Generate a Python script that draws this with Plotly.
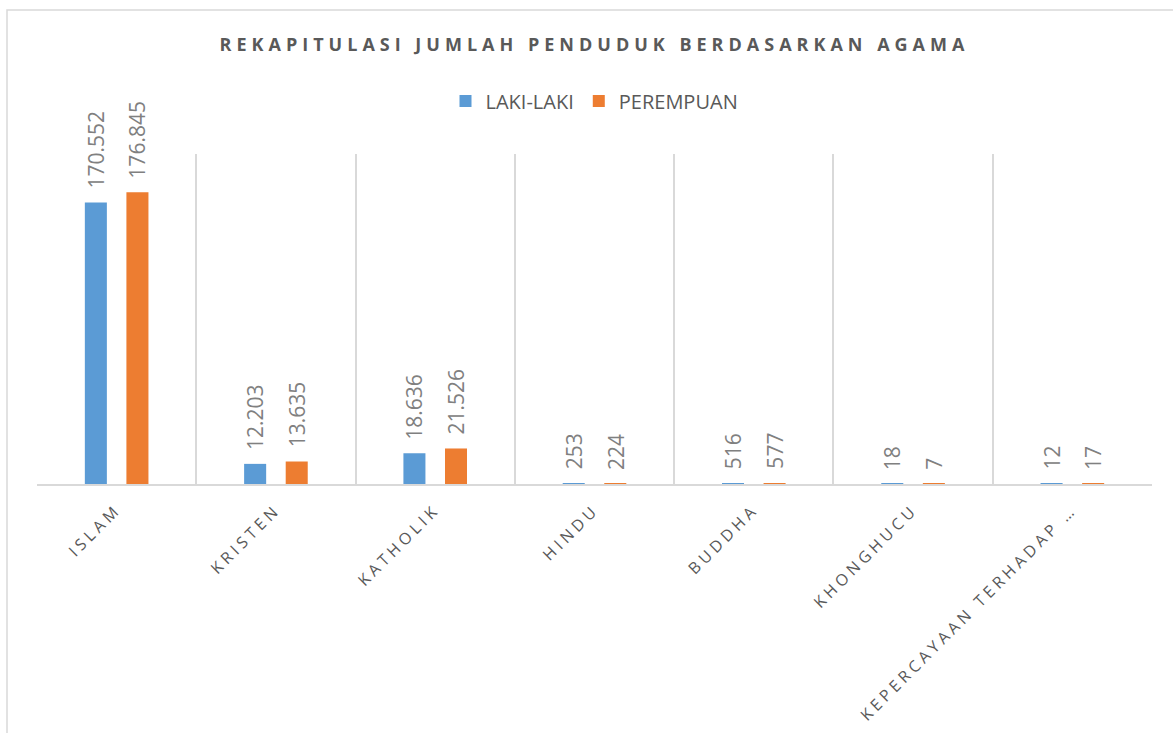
import plotly.graph_objects as go

categories = ["ISLAM", "KRISTEN", "KATHOLIK", "HINDU", "BUDDHA", "KHONGHUCU", "KEPERCAYAAN TERHADAP …"]
laki_laki = [170552, 12203, 18636, 253, 516, 18, 12]
perempuan = [176845, 13635, 21526, 224, 577, 7, 17]
laki_labels = ["170.552", "12.203", "18.636", "253", "516", "18", "12"]
perempuan_labels = ["176.845", "13.635", "21.526", "224", "577", "7", "17"]

FONT = "Open Sans, DejaVu Sans, sans-serif"
LABEL_GRAY = "#808080"
TEXT_GRAY = "#595959"
GRID = "#d9d9d9"

fig = go.Figure()
fig.add_trace(go.Bar(
    name="LAKI-LAKI", x=categories, y=laki_laki,
    marker=dict(color="#5B9BD5", line=dict(width=0)),
))
fig.add_trace(go.Bar(
    name="PEREMPUAN", x=categories, y=perempuan,
    marker=dict(color="#ED7D31", line=dict(width=0)),
))

W, H = 1173, 733
L, R, T, B = 37, 21, 154, 249
pw, ph = W - L - R, H - T - B
BARGAP, GROUPGAP = 0.478, 0.47
slot = pw / len(categories) * (1 - BARGAP) / 2  # pixel width of one bar slot

def px2x(px):
    return (px - L) / pw

def py2y(py):
    return (H - B - py) / ph

annotations = []
for series_vals, series_labels, sign in ((laki_laki, laki_labels, -1), (perempuan, perempuan_labels, 1)):
    for cat, val, lab in zip(categories, series_vals, series_labels):
        annotations.append(dict(
            x=cat, y=val, xref="x", yref="y", text=lab, showarrow=False,
            textangle=-90, xanchor="center", yanchor="bottom",
            xshift=sign * slot / 2, yshift=12,
            font=dict(family=FONT, size=21, color=LABEL_GRAY),
        ))

fig.update_layout(
    width=W, height=H,
    margin=dict(l=L, r=R, t=T, b=B, autoexpand=False),
    paper_bgcolor="white", plot_bgcolor="white",
    barmode="group", bargap=BARGAP, bargroupgap=GROUPGAP,
    title=dict(
        text="<b>REKAPITULASI JUMLAH PENDUDUK BERDASARKAN AGAMA</b>",
        x=0.5, xanchor="center", xref="paper",
        y=1 - 45 / H, yref="container", yanchor="middle",
        font=dict(family=FONT, size=18, color=TEXT_GRAY),
    ),
    legend=dict(
        orientation="h", x=0.5, xanchor="center", y=py2y(101), yanchor="middle",
        font=dict(family=FONT, size=20, color=TEXT_GRAY),
        bgcolor="rgba(0,0,0,0)", itemclick=False,
    ),
    xaxis=dict(
        type="category", tickson="boundaries", showgrid=True, gridcolor=GRID, gridwidth=1.5,
        showline=True, linecolor=GRID, linewidth=2, ticks="", tickangle=-45,
        tickfont=dict(family=FONT, size=16, color=TEXT_GRAY), automargin=False,
        ticklabelstandoff=8,
    ),
    yaxis=dict(
        range=[0, 200000], showgrid=False, zeroline=False, showticklabels=False,
        showline=False, ticks="", automargin=False,
    ),
    annotations=annotations,
    shapes=[dict(
        type="rect", xref="paper", yref="paper",
        x0=px2x(7), x1=px2x(1185), y0=py2y(745), y1=py2y(10),
        line=dict(color=GRID, width=1.5), fillcolor="rgba(0,0,0,0)", layer="below",
    )],
)

post_script = """
document.body.style.margin = '0';
document.body.style.overflow = 'hidden';
var gd = document.getElementById('{plot_id}');
function ls(){
  gd.querySelectorAll('.gtitle').forEach(function(e){ e.style.letterSpacing = '5px'; });
  gd.querySelectorAll('.xtick text').forEach(function(e){ e.style.letterSpacing = '4px'; });
}
ls();
if (gd.on) { gd.on('plotly_afterplot', ls); }
"""

fig.write_html("out.html", post_script=post_script, config={"displayModeBar": False})
